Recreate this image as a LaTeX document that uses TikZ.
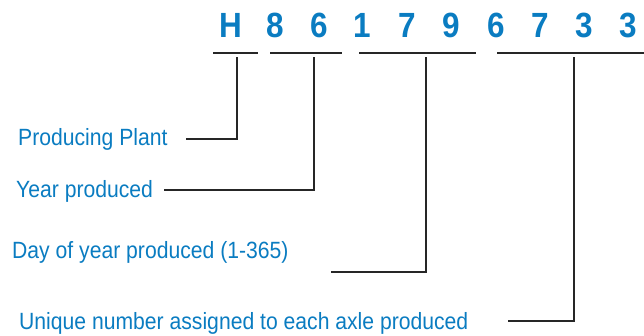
\documentclass[tikz,border=0pt]{standalone}
\usepackage{fontspec}
\setmainfont{Liberation Sans}
\newfontfamily\labelfont[FakeStretch=0.9]{Liberation Sans}
\newfontfamily\digitfont[FakeStretch=0.9]{Liberation Sans}
\definecolor{codeblue}{HTML}{0A7CC1}
\begin{document}
\begin{tikzpicture}[x=1pt,y=-1pt,
  digit/.style={inner sep=0pt,anchor=base,text=codeblue,font=\digitfont\bfseries\fontsize{35}{35}\selectfont},
  lbl/.style={inner sep=0pt,anchor=base west,text=codeblue,font=\labelfont\fontsize{23.5}{23.5}\selectfont},
  bar/.style={line width=2pt,black!85},
  conn/.style={line width=2pt,black!85}]
\useasboundingbox (0,0) rectangle (644,335);
% code characters
\node[digit] (c1) at (230.5,37) {H};
\node[digit] (c2) at (275.5,37) {8};
\node[digit] (c3) at (319.5,37) {6};
\node[digit] (c4) at (362,37) {1};
\node[digit] (c5) at (407,37) {7};
\node[digit] (c6) at (451,37) {9};
\node[digit] (c7) at (496,37) {6};
\node[digit] (c8) at (540,37) {7};
\node[digit] (c9) at (584,37) {3};
\node[digit] (c10) at (628,37) {3};
% underline bars
\coordinate (b1l) at (213,52.7); \coordinate (b1r) at (258,52.7);
\coordinate (b2l) at (270,52.7); \coordinate (b2r) at (342,52.7);
\coordinate (b3l) at (359,52.7); \coordinate (b3r) at (476,52.7);
\coordinate (b4l) at (497,52.7); \coordinate (b4r) at (644,52.7);
\draw[bar] (b1l) -- (b1r);
\draw[bar] (b2l) -- (b2r);
\draw[bar] (b3l) -- (b3r);
\draw[bar] (b4l) -- (b4r);
% labels
\node[lbl] (l1) at (18,145) {Producing Plant};
\node[lbl] (l2) at (16,197.5) {Year produced};
\node[lbl] (l3) at (12,258) {Day of year produced (1-365)};
\node[lbl] (l4) at (19,329) {Unique number assigned to each axle produced};
% connector ends
\coordinate (t1) at (237,57);  \coordinate (e1) at (186,139);
\coordinate (t2) at (314,57);  \coordinate (e2) at (164,190);
\coordinate (t3) at (426,57);  \coordinate (e3) at (331,271.5);
\coordinate (t4) at (574,57);  \coordinate (e4) at (508,320.7);
\draw[conn] (t1) |- (e1);
\draw[conn] (t2) |- (e2);
\draw[conn] (t3) |- (e3);
\draw[conn] (t4) |- (e4);
\end{tikzpicture}
\end{document}
